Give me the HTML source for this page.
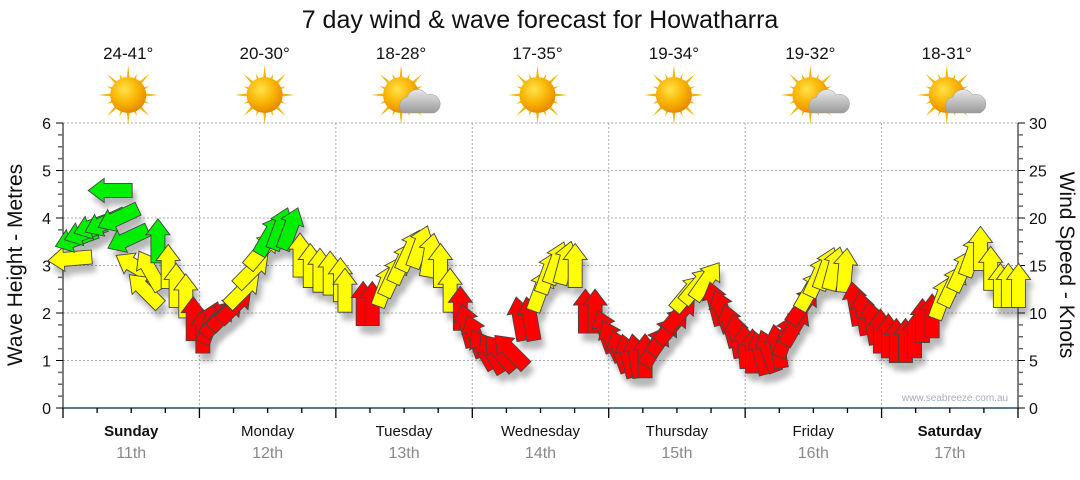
<!DOCTYPE html>
<html><head><meta charset="utf-8"><style>
body{margin:0;background:#fff;}
svg text{font-family:"Liberation Sans",sans-serif;}
</style></head><body>
<svg id="chart" width="1080" height="475" viewBox="0 0 1080 475" xmlns="http://www.w3.org/2000/svg">
<defs>
<filter id="sh" x="-50%" y="-50%" width="200%" height="200%"><feGaussianBlur stdDeviation="3"/></filter>
<radialGradient id="sunG" cx="40%" cy="35%" r="65%"><stop offset="0" stop-color="#ffe24a"/><stop offset="0.6" stop-color="#f9b200"/><stop offset="1" stop-color="#e58a00"/></radialGradient>
<linearGradient id="cloudG" x1="0" y1="0" x2="0" y2="1"><stop offset="0" stop-color="#e8e8e8"/><stop offset="1" stop-color="#9a9a9a"/></linearGradient>
</defs>
<text x="540" y="28" text-anchor="middle" font-size="25" fill="#111">7 day wind &amp; wave forecast for Howatharra</text>
<g id="topgroup"></g>
<g id="grid"></g>
<g id="axes"></g>
<g id="shadows" opacity="0.35"></g>
<g id="arrows"></g>
<text x="955" y="401" text-anchor="middle" font-size="10" fill="#aab">www.seabreeze.com.au</text>
<text transform="translate(22,265) rotate(-90)" text-anchor="middle" font-size="21" fill="#111">Wave Height - Metres</text>
<text transform="translate(1060,265) rotate(90)" text-anchor="middle" font-size="21" fill="#111">Wind Speed - Knots</text>
</svg>
<script>
const days=["Sunday","Monday","Tuesday","Wednesday","Thursday","Friday","Saturday"];
const dates=["11th","12th","13th","14th","15th","16th","17th"];
const temps=["24-41°","20-30°","18-28°","17-35°","19-34°","19-32°","18-31°"];
const cloudy=[false,false,true,false,false,true,true];
const leftTicks=[0,1,2,3,4,5,6];
const rightTicks=[0,5,10,15,20,25,30];
const hours=[1.2,2.3,3.9,5.6,7.4,8.3,9.7,11.4,12.7,14.4,15.3,16.7,18.5,19.9,21.6,22.9,24.6,25.9,27.3,28.7,30.3,31.7,33.3,35.0,36.4,38.2,40.0,41.7,43.5,45.2,47.0,48.8,49.6,52.8,54.4,56.7,58.1,59.7,61.1,62.8,64.6,66.4,68.1,69.9,71.1,72.5,73.9,75.5,76.9,78.7,80.4,82.2,84.0,85.4,86.8,88.4,90.1,91.9,93.6,95.4,96.6,98.0,99.4,100.8,102.4,104.2,105.6,107.2,108.6,110.0,111.6,113.2,114.8,116.0,117.4,118.6,120.0,121.3,122.7,124.1,125.7,127.2,128.8,130.2,131.5,132.9,134.3,135.7,137.6,139.4,140.8,142.4,143.8,145.2,146.6,148.2,149.8,151.2,152.9,154.7,156.5,158.2,160.0,161.4,163.2,164.9,166.3,168.1];
const knots=[15.7,17.8,18.5,19.2,19.5,22.9,20.0,17.8,14.9,12.4,14.5,17.6,14.9,12.9,11.8,9.4,8.1,9.0,9.4,10.0,10.8,12.4,14.5,16.6,18.2,18.9,18.9,16.1,15.0,14.5,14.2,13.5,12.4,11.0,11.0,12.9,13.9,15.3,16.6,17.0,16.1,15.0,12.4,10.5,8.7,7.6,6.2,5.8,5.8,6.0,9.4,9.4,12.4,14.3,15.3,15.3,15.0,10.2,10.2,8.1,7.1,6.0,5.5,5.5,5.5,6.5,7.6,8.7,10.0,12.1,12.9,13.4,11.0,10.2,8.7,7.6,6.5,6.0,5.8,6.0,6.5,7.6,8.7,10.8,12.4,13.9,14.7,14.7,14.5,11.0,10.0,9.0,8.1,7.6,7.1,7.1,7.6,9.2,9.7,11.6,12.9,14.5,16.1,16.8,14.7,12.9,12.9,12.9];
const dirs=[-95,-110,-110,-110,-115,-90,-115,-115,-60,-45,-30,0,0,0,0,0,0,20,40,45,45,45,45,40,30,20,20,0,0,0,0,0,0,0,0,20,25,25,25,20,10,0,0,0,-15,-20,-30,-30,-40,-45,-10,-10,20,20,20,15,0,0,0,-20,-25,-20,-15,-10,0,30,35,40,40,40,40,35,-15,-20,-15,-10,-5,0,-15,-20,-10,20,30,35,30,25,20,15,5,-10,-10,-10,0,0,0,0,0,0,0,20,25,25,20,0,0,0,0,0];

const NS="http://www.w3.org/2000/svg";
const X0=63,X1=1018,Y0=408,Y6=123;
const xS=h=>X0+(X1-X0)*h/168;
const yM=m=>Y0-(Y0-Y6)*m/6;
const yK=k=>Y0-(Y0-Y6)*k/30;
function mk(tag,attrs,parent){const e=document.createElementNS(NS,tag);for(const k in attrs)e.setAttribute(k,attrs[k]);parent.appendChild(e);return e;}
const grid=document.getElementById('grid'),axes=document.getElementById('axes'),topG=document.getElementById('topgroup');
for(let m=1;m<=6;m++){const l=mk('line',{x1:X0,x2:X1,y1:yM(m),y2:yM(m),stroke:'#aaa','stroke-dasharray':'2,2'},grid);

}
for(let d=1;d<=6;d++){const l=mk('line',{x1:xS(d*24),x2:xS(d*24),y1:Y6,y2:Y0,stroke:'#aaa','stroke-dasharray':'2,2'},grid);

}
mk('line',{x1:X0,x2:X0,y1:Y6,y2:Y0,stroke:'#000'},axes);
mk('line',{x1:X1,x2:X1,y1:Y6,y2:Y0,stroke:'#000'},axes);
mk('line',{x1:X0,x2:X1,y1:Y0,y2:Y0,stroke:'#1d4e6e','stroke-width':1.5},axes);
for(let i=0;i<=24;i++){const m=i/4,maj=i%4==0;
mk('line',{x1:X0-(maj?7:5),x2:X0,y1:yM(m),y2:yM(m),stroke:maj?'#000':'#666','stroke-width':maj?1:1.5},axes);
mk('line',{x1:X1,x2:X1+(maj?7:5),y1:yM(m),y2:yM(m),stroke:maj?'#000':'#666','stroke-width':maj?1:1.5},axes);}
leftTicks.forEach(v=>{const t=mk('text',{x:X0-12,y:yM(v)+6,'text-anchor':'end','font-size':16,fill:'#111'},axes);t.textContent=v;

});
rightTicks.forEach(v=>{const t=mk('text',{x:X1+11,y:yK(v)+6,'font-size':16,fill:'#111'},axes);t.textContent=v;

});
for(let i=0;i<=28;i++){const maj=i%4==0;mk('line',{x1:xS(i*6),x2:xS(i*6),y1:Y0,y2:Y0+(maj?10:5),stroke:'#000','stroke-width':1.3},axes);}
days.forEach((d,i)=>{const cx=xS(i*24+12);
const t=mk('text',{x:cx,y:436,'text-anchor':'middle','font-size':15,fill:'#111','font-weight':(i==0||i==6)?'bold':'normal'},axes);t.textContent=d;


const t2=mk('text',{x:cx,y:458,'text-anchor':'middle','font-size':16,fill:'#888'},axes);t2.textContent=dates[i];


const t3=mk('text',{x:cx-3,y:59,'text-anchor':'middle','font-size':17,fill:'#111'},topG);t3.textContent=temps[i];


const g=mk('g',{transform:`translate(${cx-3},95)`},topG);


for(let k=0;k<16;k++){const a=k*Math.PI/8,L=k%2?23:30;
mk('polygon',{points:`${Math.cos(a-0.13)*14},${Math.sin(a-0.13)*14} ${Math.cos(a)*L},${Math.sin(a)*L} ${Math.cos(a+0.13)*14},${Math.sin(a+0.13)*14}`,fill:'#f3b500'},g);}
mk('circle',{r:18,fill:'url(#sunG)'},g);
if(cloudy[i]){mk('path',{d:'M2,18 a9,9 0 0 1 4,-16 a11,11 0 0 1 20,-2 a9,9 0 0 1 7,18 z',fill:'url(#cloudG)',stroke:'#999','stroke-width':0.5},g);}
});
const sh=document.getElementById('shadows'),ar=document.getElementById('arrows');
const pts="0,-22 12,-6 7,-6 7,22 -7,22 -7,-6 -12,-6";
hours.forEach((h,i)=>{const x=xS(h),y=yK(knots[i]),k=knots[i];
const c=k>=17.5?'#00ee00':(k>=11.5?'#ffff00':'#ff0000');
const s=mk('polygon',{points:pts,fill:'#333',filter:'url(#sh)',transform:`translate(${x+4},${y+8}) rotate(${dirs[i]})`},sh);


const p=mk('polygon',{points:pts,fill:c,stroke:'#444','stroke-width':0.9,transform:`translate(${x},${y}) rotate(${dirs[i]})`},ar);

});
</script>
</body></html>
